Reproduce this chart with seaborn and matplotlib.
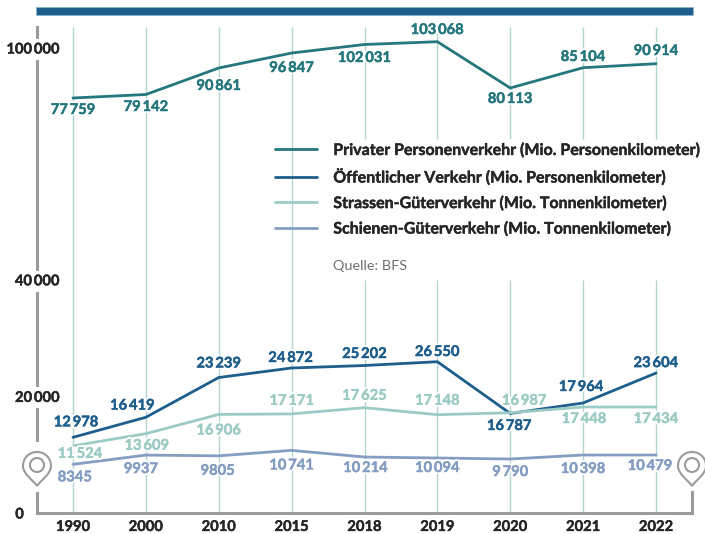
import pandas as pd
import matplotlib
matplotlib.use('Agg')
import matplotlib.pyplot as plt
import matplotlib.patheffects as pe
from matplotlib.patches import Circle, PathPatch, Rectangle
from matplotlib.path import Path
import seaborn as sns

years = ['1990', '2000', '2010', '2015', '2018', '2019', '2020', '2021', '2022']

# Line heights (the last points sit off the printed numbers)
privat = [78070, 79600, 91230, 97800, 101535, 102760, 82460, 91360, 93110]
oeffentlich = [12978, 16419, 23239, 24872, 25300, 25950, 17070, 18870, 24000]
strasse = [11524, 13609, 16906, 17000, 18060, 16860, 17200, 18180, 18180]
schiene = [8345, 9937, 9805, 10741, 9600, 9434, 9260, 9950, 9950]

# Numbers printed next to the points
privat_text = ['77\u2009759', '79\u2009142', '90\u2009861', '96\u2009847', '102\u2009031', '103\u2009068', '80\u2009113', '85\u2009104', '90\u2009914']
oeffentlich_text = ['12\u2009978', '16\u2009419', '23\u2009239', '24\u2009872', '25\u2009202', '26\u2009550', '16\u2009787', '17\u2009964', '23\u2009604']
strasse_text = ['11\u2009524', '13\u2009609', '16\u2009906', '17\u2009171', '17\u2009625', '17\u2009148', '16\u2009987', '17\u2009448', '17\u2009434']
schiene_text = ['8345', '9937', '9805', '10\u2009741', '10\u2009214', '10\u2009094', '9\u2009790', '10\u2009398', '10\u2009479']

# label offsets from the point, in pixels
privat_off = [(0, -12), (0, -12.5), (0, -18), (0, -15), (0, -13.5), (0, 11.7), (0, -11), (0, 10.7), (0, 12.7)]
oeffentlich_off = [(3, 15), (-13.5, 11.7), (0, 14), (-1, 10), (0, 11.5), (0, 9.7), (-1, -12.5), (-2, 16), (0, 10)]
strasse_off = [(7, -8), (1, -12), (0, -16), (0, 13), (0, 12), (0, 14), (14, 12), (1, -12), (0, -12)]
schiene_off = [(2, -13), (-5, -14), (-1, -15), (0, -15), (1, -11), (0, -10), (0, -13), (0, -14), (-6, -11)]

names = ['Privater Personenverkehr (Mio. Personenkilometer)',
         'Öffentlicher Verkehr (Mio. Personenkilometer)',
         'Strassen-Güterverkehr (Mio. Tonnenkilometer)',
         'Schienen-Güterverkehr (Mio. Tonnenkilometer)']
colors = ['#24777d', '#1d5e8c', '#9ccbc5', '#849dc1']
GRAY = '#9b9b9b'
GRID = '#b3d5d2'
DARK = '#262626'
SIZE = 10.6

sns.set_theme(style='white')
plt.rcParams['font.family'] = ['Lato', 'DejaVu Sans']

df = pd.DataFrame({'Jahr': years, 'privat': privat, 'oeffentlich': oeffentlich,
                   'strasse': strasse, 'schiene': schiene})

fig = plt.figure(figsize=(7.05, 5.34), dpi=100)
ax = fig.add_axes([37 / 705, 21 / 534, 655 / 705, 486 / 534])
ax2 = ax.twinx()

# Lower block on ax, upper block (different scale) on ax2
sns.lineplot(data=df, x='Jahr', y='oeffentlich', ax=ax, color=colors[1], lw=2, sort=False, errorbar=None, label=names[1])
sns.lineplot(data=df, x='Jahr', y='strasse', ax=ax, color=colors[2], lw=2, sort=False, errorbar=None, label=names[2])
sns.lineplot(data=df, x='Jahr', y='schiene', ax=ax, color=colors[3], lw=2, sort=False, errorbar=None, label=names[3])
sns.lineplot(data=df, x='Jahr', y='privat', ax=ax2, color=colors[0], lw=2, sort=False, errorbar=None, label=names[0])

ax.set_xlim(-0.494, 8.494)
ax.set_ylim(0, 83362)
ax2.set_ylim(-103947, 109211)
ax.set_xlabel('')
ax.set_ylabel('')
ax2.set_xlabel('')
ax2.set_ylabel('')
# tick labels have to sit over the spine, they break it
ax.set_axisbelow(False)
ax2.set_axisbelow(False)

# Gridlines stop around the legend for the right-hand years
for i in range(len(years)):
    if i < 4:
        ax.vlines(i, 0, 1, transform=ax.get_xaxis_transform(), color=GRID, lw=1, zorder=1)
    else:
        ax.vlines(i, 0, 0.4794, transform=ax.get_xaxis_transform(), color=GRID, lw=1, zorder=1)
        ax.vlines(i, 0.7695, 1, transform=ax.get_xaxis_transform(), color=GRID, lw=1, zorder=1)

# the font's bold is a bit light, thicken it with a thin stroke of its own colour
heavy = [pe.withStroke(linewidth=0.3, foreground=DARK)]


def put_labels(axis, values, texts, offsets, color):
    for i in range(len(values)):
        axis.annotate(texts[i], xy=(i, values[i]), xytext=offsets[i], textcoords='offset pixels',
                      ha='center', va='center', color=color, fontsize=SIZE, fontweight='bold', zorder=5,
                      path_effects=[pe.Stroke(linewidth=2.8, foreground='white'),
                                    pe.withStroke(linewidth=0.3, foreground=color)])


put_labels(ax, oeffentlich, oeffentlich_text, oeffentlich_off, colors[1])
put_labels(ax, strasse, strasse_text, strasse_off, colors[2])
put_labels(ax, schiene, schiene_text, schiene_off, colors[3])
put_labels(ax2, privat, privat_text, privat_off, colors[0])

# Axes
for s in ax2.spines.values():
    s.set_visible(False)
ax.spines['top'].set_visible(False)
for side in ['left', 'bottom', 'right']:
    ax.spines[side].set_color(GRAY)
    ax.spines[side].set_linewidth(2.2)
ax.spines['right'].set_bounds(0, 3600)

ax.set_yticks([0, 20000, 40000])
ax.set_yticklabels(['0', '20\u2009000', '40\u2009000'])
ax.tick_params(axis='y', length=0, pad=-16.5, labelsize=SIZE)
ax.tick_params(axis='x', length=0, pad=5, labelsize=SIZE, labelcolor=DARK)
for lab in ax.get_xticklabels():
    lab.set_fontweight('bold')
    lab.set_path_effects(heavy)
for lab in ax.get_yticklabels():
    lab.set_fontweight('bold')
    lab.set_color(DARK)
    lab.set_path_effects(heavy)
    lab.set_bbox(dict(facecolor='white', edgecolor='none', pad=2.5))
ax.get_yticklabels()[0].set_x(-0.055)
ax.get_yticklabels()[0].set_bbox(None)

ax2.yaxis.tick_left()
ax2.set_yticks([100000])
ax2.set_yticklabels(['100\u2009000'])
ax2.tick_params(axis='y', length=0, pad=-16.5, labelsize=SIZE)
for lab in ax2.get_yticklabels():
    lab.set_fontweight('bold')
    lab.set_color(DARK)
    lab.set_path_effects(heavy)
    lab.set_bbox(dict(facecolor='white', edgecolor='none', pad=2.5))

# Legend
h1, l1 = ax.get_legend_handles_labels()
h2, l2 = ax2.get_legend_handles_labels()
ax.get_legend().remove()
leg = ax2.legend(h2 + h1, l2 + l1, loc='upper left', bbox_to_anchor=(275 / 705, 1 - 143.5 / 534),
                 bbox_transform=fig.transFigure, frameon=False, borderpad=0, borderaxespad=0,
                 handlelength=2.65, handletextpad=1.0, labelspacing=0.69, labelcolor=DARK,
                 prop={'size': 11.5, 'weight': 'bold'})
for t in leg.get_texts():
    t.set_path_effects(heavy)

# Decoration in pixel coordinates: top bar, pins, source line
deco = fig.add_axes([0, 0, 1, 1], zorder=10)
deco.set_xlim(0, 705)
deco.set_ylim(534, 0)
deco.axis('off')
deco.patch.set_visible(False)
deco.add_patch(Rectangle((36, 6.5), 657, 8, facecolor='#1d5e8c', edgecolor='#8fb3c9', lw=0.6))
deco.add_patch(Rectangle((33, 442), 8, 50, facecolor='white', edgecolor='none'))
for cx in [37, 692]:
    cy = 466
    outline = Path([(cx, cy + 20), (cx - 4, cy + 14), (cx - 14, cy + 8), (cx - 14, cy),
                    (cx - 14, cy - 8), (cx - 8, cy - 14), (cx, cy - 14),
                    (cx + 8, cy - 14), (cx + 14, cy - 8), (cx + 14, cy),
                    (cx + 14, cy + 8), (cx + 4, cy + 14), (cx, cy + 20)],
                   [Path.MOVETO] + [Path.CURVE4] * 12)
    deco.add_patch(PathPatch(outline, facecolor='white', edgecolor=GRAY, lw=1.5, clip_on=False))
    deco.add_patch(Circle((cx, cy - 1), 7, facecolor='white', edgecolor=GRAY, lw=1.5, clip_on=False))
deco.text(333, 266, 'Quelle: BFS', color='#707070', fontsize=10.4, va='center', ha='left')

plt.savefig('out.png', dpi=100)
